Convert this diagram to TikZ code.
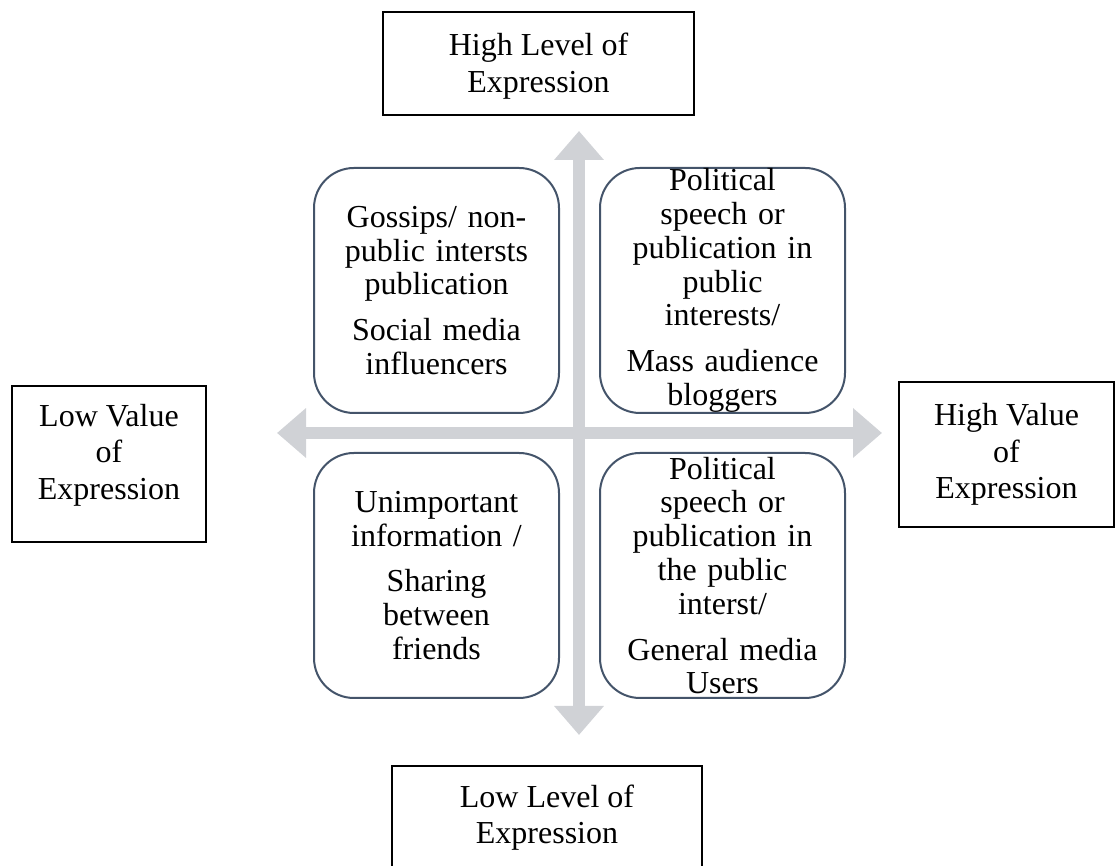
\documentclass[tikz,border=0pt]{standalone}
\usepackage{fontspec}
\setmainfont{Liberation Serif}
\usetikzlibrary{arrows.meta}

\definecolor{axisgray}{RGB}{208,210,214}
\definecolor{slate}{RGB}{68,84,106}

\begin{document}
\begin{tikzpicture}[x=0.5pt, y=0.5pt,
		quad/.style={draw=slate, line width=1pt, rounded corners=20pt, fill=white,
			minimum width=122.5pt, minimum height=122.5pt, inner sep=0pt,
			text width=98pt, align=center, font=\fontsize{16}{16.9}\selectfont},
		label box/.style={draw=black, line width=0.6pt, inner sep=0pt,
			align=center, font=\fontsize{16}{18.25}\selectfont},
		axis/.style={draw=axisgray, line width=6pt,
			{Triangle[length=14.5pt,width=24pt]}-{Triangle[length=14.5pt,width=24pt]}}]
			\useasboundingbox (0,0) rectangle (1120,866);
			
			% ends of the two axes
			\coordinate (up) at (579,735);
			\coordinate (down) at (579,131);
			\coordinate (lft) at (277,433);
			\coordinate (rgt) at (882,433);
			
			\draw [axis] (down) -- (up);
			\draw [axis] (lft) -- (rgt);
			
			% the four quadrants
			\node [quad] (gossip) at (436.5,575.5) {Gossips/ non-\\public intersts\\publication\\[6pt]Social media\\influencers};
			\node [quad] (political) at (722.5,575.5) {Political\\speech or\\publication in\\public\\interests/\\[6pt]Mass audience\\bloggers};
			\node [quad] (unimportant) at (436.5,290.5) {Unimportant\\information /\\[6pt]Sharing\\between\\friends};
			\node [quad] (general) at (722.5,290.5) {Political\\speech or\\publication in\\the public\\interst/\\[6pt]General media\\Users};
			
			% labels at the ends of the axes
			\node [label box, minimum width=155.5pt, minimum height=51.5pt, text depth=1pt] (hilevel) at (538.5,802.5) {High Level of\\Expression};
			\node [label box, minimum width=155pt, minimum height=51.5pt] (lolevel) at (547,48.5) {Low Level of\\Expression};
			\node [label box, minimum width=97pt, minimum height=78pt, text depth=12.5pt] (lovalue) at (109,402) {Low Value\\of\\Expression};
			\node [label box, minimum width=107.5pt, minimum height=72.5pt] (hivalue) at (1006.5,411.5) {High Value\\of\\Expression};
		\end{tikzpicture}
\end{document}
